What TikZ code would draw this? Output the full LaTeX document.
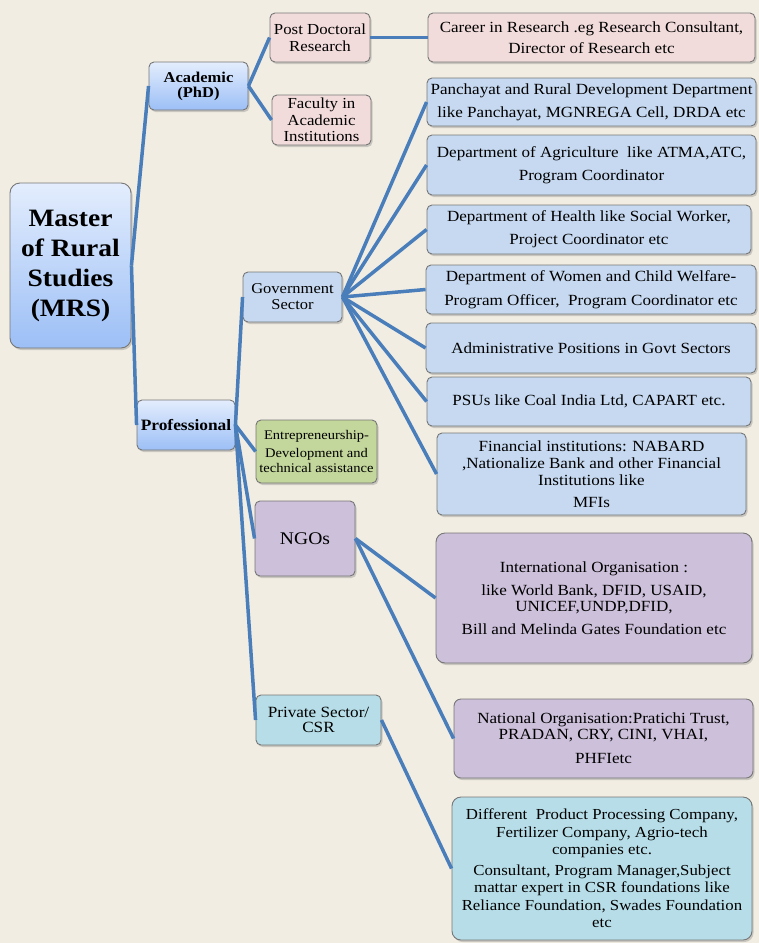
\documentclass[tikz,border=0pt]{standalone}
\usepackage{fontspec}
\setmainfont{Liberation Serif}[FakeStretch=1.1]
\usetikzlibrary{shadows}

\definecolor{bgcol}{HTML}{F1EDE3}
\definecolor{linkblue}{HTML}{4A7EBB}
\definecolor{edgegray}{HTML}{767676}
\definecolor{govfill}{HTML}{C6D9F0}
\definecolor{pinkfill}{HTML}{F2DCDB}
\definecolor{greenfill}{HTML}{C3D69B}
\definecolor{purplefill}{HTML}{CCC0DA}
\definecolor{cyanfill}{HTML}{B7DEE8}
\definecolor{gradtop}{HTML}{E3EDFD}
\definecolor{gradbot}{HTML}{9CBFF6}

\begin{document}
\begin{tikzpicture}[x=1pt, y=-1pt,
    box/.style={draw=edgegray, line width=0.9pt, rounded corners=5pt, align=center,
      inner sep=1pt, font=\fontsize{15.5}{17}\selectfont,
      drop shadow={shadow xshift=1.5pt, shadow yshift=-2pt, opacity=0.35}},
    gradbox/.style={box, top color=gradtop, bottom color=gradbot},
    govbox/.style={box, fill=govfill},
    pinkbox/.style={box, fill=pinkfill},
    link/.style={linkblue, line width=3.5pt}]

    % Background
    \fill[bgcol] (0,0) rectangle (759,943);
    \useasboundingbox (0,0) rectangle (759,943);

    % Root and first level
    \node[gradbox, rounded corners=10pt, minimum width=121pt, minimum height=165pt,
      font=\fontsize{25}{30}\selectfont\bfseries] (mrs) at (70.5,265.5)
      {Master\\of Rural\\Studies\\(MRS)};
    \node[gradbox, minimum width=99pt, minimum height=48pt, font=\fontsize{15}{15}\selectfont\bfseries]
      (acad) at (198.5,86) {Academic\\(PhD)};
    \node[gradbox, minimum width=98pt, minimum height=50pt, font=\fontsize{15.8}{16}\selectfont\bfseries]
      (prof) at (186,425) {Professional};

    % Academic branch
    \node[pinkbox, minimum width=100pt, minimum height=49pt, font=\fontsize{15.3}{17}\selectfont]
      (postdoc) at (320,37.5) {Post Doctoral\\Research};
    \node[pinkbox, minimum width=99pt, minimum height=50pt, font=\fontsize{15.3}{16.5}\selectfont]
      (faculty) at (321.5,120) {Faculty in\\Academic\\Institutions};
    \node[pinkbox, minimum width=327pt, minimum height=49pt, font=\fontsize{15.5}{21.5}\selectfont]
      (career) at (591.5,37.5) {Career in Research .eg Research Consultant,\\Director of Research etc};

    % Professional branch
    \node[govbox, minimum width=99pt, minimum height=50pt, font=\fontsize{15}{16}\selectfont]
      (gov) at (292.5,297) {Government\\Sector};
    \node[box, fill=greenfill, minimum width=121pt, minimum height=63pt, font=\fontsize{13.2}{15}\selectfont]
      (entre) at (316.5,451.5) {Entrepreneurship-\\[3pt]Development and\\technical assistance};
    \node[box, fill=purplefill, minimum width=100pt, minimum height=75pt, font=\fontsize{17.8}{20}\selectfont]
      (ngo) at (305,538.5) {NGOs};
    \node[box, fill=cyanfill, minimum width=125pt, minimum height=50pt, font=\fontsize{15.6}{15.5}\selectfont]
      (priv) at (318.5,720) {Private Sector/\\CSR};

    % Government jobs
    \node[govbox, minimum width=329pt, minimum height=48pt, font=\fontsize{15.5}{23}\selectfont]
      (panch) at (591.5,102) {Panchayat and Rural Development Department\\like Panchayat, MGNREGA Cell, DRDA etc};
    \node[govbox, minimum width=329pt, minimum height=60pt, font=\fontsize{15.5}{23}\selectfont]
      (agri) at (591.5,165) {Department of Agriculture\ \ like ATMA,ATC,\\Program Coordinator};
    \node[govbox, minimum width=324pt, minimum height=49pt, font=\fontsize{15.5}{23}\selectfont]
      (health) at (589,229.5) {Department of Health like Social Worker,\\Project Coordinator etc};
    \node[govbox, minimum width=330pt, minimum height=49pt, font=\fontsize{15.5}{24}\selectfont]
      (women) at (591,289.5) {Department of Women and Child Welfare-\\Program Officer,\ \ Program Coordinator etc};
    \node[govbox, minimum width=330pt, minimum height=50pt] (admin) at (591,348)
      {Administrative Positions in Govt Sectors};
    \node[govbox, minimum width=324pt, minimum height=49pt] (psu) at (589,401.5)
      {PSUs like Coal India Ltd, CAPART etc.};
    \node[govbox, minimum width=309pt, minimum height=82pt, font=\fontsize{15.5}{17}\selectfont]
      (fin) at (591.5,474) {Financial institutions: NABARD\\,Nationalize Bank and other Financial\\Institutions like\\[5pt]MFIs};

    % NGO and private jobs
    \node[box, fill=purplefill, minimum width=316pt, minimum height=130pt, rounded corners=9pt,
      font=\fontsize{15.5}{16.5}\selectfont] (intl) at (594,598)
      {International Organisation :\\[6pt]like World Bank, DFID, USAID,\\UNICEF,UNDP,DFID,\\[6pt]Bill and Melinda Gates Foundation etc};
    \node[box, fill=purplefill, minimum width=299pt, minimum height=79pt, rounded corners=7pt,
      font=\fontsize{15.5}{15.5}\selectfont] (natl) at (603.5,738.5)
      {National Organisation:Pratichi Trust,\\PRADAN, CRY, CINI, VHAI,\\[9pt]PHFIetc};
    \node[box, fill=cyanfill, minimum width=300pt, minimum height=143pt, rounded corners=9pt,
      font=\fontsize{15.3}{17.5}\selectfont] (diff) at (602,868.5)
      {Different\ \ Product Processing Company,\\Fertilizer Company, Agrio-tech\\companies etc.\\[3pt]Consultant, Program Manager,Subject\\mattar expert in CSR foundations like\\Reliance Foundation, Swades Foundation\\etc};

    % Connectors
    \draw[link] (mrs.east) -- (acad.west);
    \draw[link] (mrs.east) -- (prof.west);
    \draw[link] (acad.east) -- (postdoc.west);
    \draw[link] (acad.east) -- (faculty.west);
    \draw[link] (postdoc.east) -- (career.west);
    \foreach \job in {panch,agri,health,women,admin,psu,fin}
      \draw[link] (gov.east) -- (\job.west);
    \foreach \sect in {gov,entre,ngo,priv}
      \draw[link] (prof.east) -- (\sect.west);
    \draw[link] (ngo.east) -- (intl.west);
    \draw[link] (ngo.east) -- (natl.west);
    \draw[link] (priv.east) -- (diff.west);
  \end{tikzpicture}
\end{document}
